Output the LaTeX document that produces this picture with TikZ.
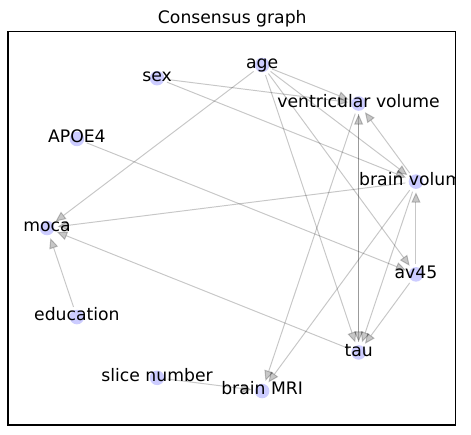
\documentclass[tikz,border=0pt]{standalone}
\usepackage{fontspec}
\setmainfont{DejaVu Sans}
\usetikzlibrary{arrows.meta}
\definecolor{lav}{HTML}{CCCCFF}
\pgfdeclarelayer{bg}
\pgfsetlayers{bg,main}

\begin{document}
\begin{tikzpicture}[
  x=0.72pt, y=0.72pt,
  font=\fontsize{12.4}{14}\selectfont,
  vert/.style={circle, fill=lav, inner sep=0pt, minimum size=10.5pt, outer sep=2.4pt},
  lbl/.style={inner sep=0pt, text height=1ex, text depth=0pt},
  arr/.style={-{Triangle[length=7.5pt, width=6.5pt]}, draw=black, opacity=0.22, line width=0.7pt}
]
\useasboundingbox (-235.3,228) rectangle (235.7,-206);
\node[anchor=base] (title) at (-3,204.5) {Consensus graph};

\begin{scope}
\clip (-227.3,196.5) rectangle (220.4,-197);
% nodes on an ellipse
\node[vert, label={[lbl]center:brain volume}] (bvol) at (16.36:188.3 and 164.7) {};
\node[vert, label={[lbl]center:ventricular volume}] (vvol) at (49.09:188.3 and 164.7) {};
\node[vert, label={[lbl]center:age}] (age) at (81.82:188.3 and 164.7) {};
\node[vert, label={[lbl]center:sex}] (sex) at (114.55:188.3 and 164.7) {};
\node[vert, label={[lbl]center:APOE4}] (apoe) at (147.27:188.3 and 164.7) {};
\node[vert, label={[lbl]center:moca}] (moca) at (180:188.3 and 164.7) {};
\node[vert, label={[lbl]center:education}] (edu) at (212.73:188.3 and 164.7) {};
\node[vert, label={[lbl]center:slice number}] (slice) at (245.45:188.3 and 164.7) {};
\node[vert, label={[lbl]center:brain MRI}] (mri) at (278.18:188.3 and 164.7) {};
\node[vert, label={[lbl]center:tau}] (tau) at (310.91:188.3 and 164.7) {};
\node[vert, label={[lbl]center:av45}] (av) at (343.64:188.3 and 164.7) {};
\end{scope}

\begin{pgfonlayer}{bg}
\draw[arr] (sex)--(vvol); \draw[arr] (sex)--(bvol);
\draw[arr] (age)--(vvol); \draw[arr] (age)--(bvol); \draw[arr] (age)--(av);
\draw[arr] (age)--(tau); \draw[arr] (age)--(moca);
\draw[arr] (apoe)--(av); \draw[arr] (edu)--(moca);
\draw[arr] (bvol)--(moca); \draw[arr] (tau)--(moca);
\draw[arr] (slice)--(mri); \draw[arr] (vvol)--(mri); \draw[arr] (bvol)--(mri);
\draw[arr] (bvol)--(vvol); \draw[arr] (tau)--(vvol); \draw[arr] (vvol)--(tau);
\draw[arr] (av)--(bvol); \draw[arr] (bvol)--(tau); \draw[arr] (av)--(tau);
\end{pgfonlayer}

\draw[line width=0.8pt] (-227.3,196.5) rectangle (220.4,-197);
\end{tikzpicture}
\end{document}
